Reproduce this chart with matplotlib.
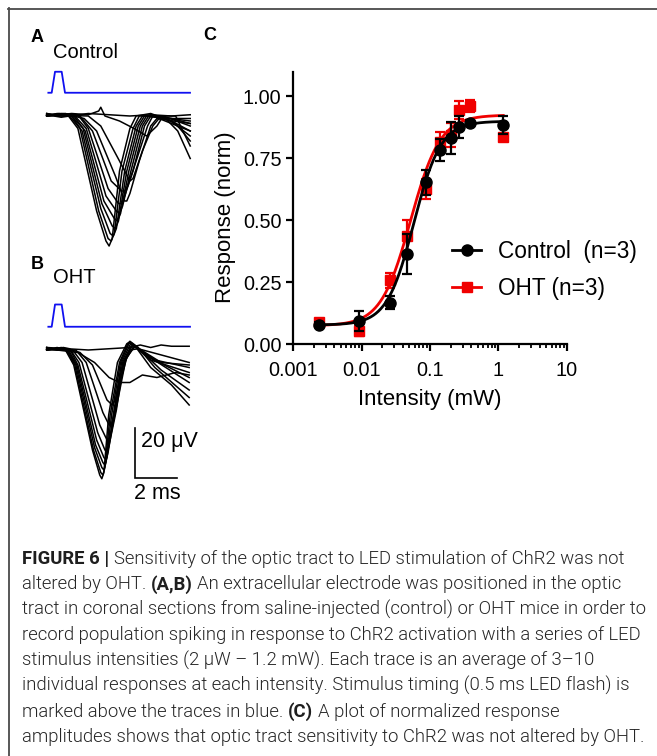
import numpy as np
import matplotlib
matplotlib.use("Agg")
import matplotlib.pyplot as plt
from matplotlib.lines import Line2D
from matplotlib import font_manager
from matplotlib.font_manager import FontProperties

W, H = 657, 756
plt.rcParams['font.family'] = ['Liberation Sans', 'DejaVu Sans']

# ---------------- data: panel C ----------------
intensity = [0.0024, 0.0093, 0.026, 0.046, 0.088, 0.142, 0.205, 0.27, 0.39, 1.18]
resp_control = [0.078, 0.093, 0.168, 0.365, 0.654, 0.783, 0.834, 0.876, 0.895, 0.885]
err_control = [0.01, 0.04, 0.025, 0.08, 0.05, 0.045, 0.065, 0.045, 0.01, 0.035]
resp_oht = [0.088, 0.052, 0.258, 0.435, 0.628, 0.818, 0.845, 0.945, 0.962, 0.835]
err_oht = [0.01, 0.02, 0.03, 0.065, 0.04, 0.04, 0.05, 0.035, 0.025, 0.01]
# fitted sigmoid parameters (bottom, top, EC50, hill)
fit_control = [0.078, 0.90, 0.058, 2.2]
fit_oht = [0.075, 0.925, 0.052, 2.0]
x_ticks = [0.001, 0.01, 0.1, 1, 10]
x_ticklabels = ["0.001", "0.01", "0.1", "1", "10"]
y_ticks = [0.0, 0.25, 0.5, 0.75, 1.0]
y_ticklabels = ["0.00", "0.25", "0.50", "0.75", "1.00"]
legend_labels = ["Control  (n=3)", "OHT (n=3)"]

# ---------------- data: panels A/B (ms, µV) ----------------
stim_t = [0.08, 0.24, 0.40, 0.72, 0.88, 6.89]
stim_level = [0, 0, 1, 1, 0, 0]
traces_A = [
    [(0, 0), (0.6, 1), (1.0, 0.5), (1.5, -5), (2.4, -38), (2.85, -50), (3.0, -52), (3.15, -49), (3.5, -22), (4.0, -5), (4.3, 0), (5.0, 1), (6.0, -2), (6.9, -6)],
    [(0, 0.5), (0.7, -0.5), (1.1, 0), (1.6, -5), (2.5, -38), (2.95, -49), (3.1, -50), (3.25, -47), (3.62, -22), (4.15, -5), (4.45, 0), (5.4, 0), (6.2, -3), (6.9, -10)],
    [(0, 0), (0.5, 1), (1.15, 0.5), (1.7, -6), (2.6, -37), (3.05, -47), (3.2, -48), (3.35, -45), (3.75, -22), (4.3, -4), (4.6, 0), (5.6, 0), (6.9, -4)],
    [(0, 1), (0.8, 0), (1.2, 0), (1.75, -5), (2.65, -35), (3.15, -44), (3.3, -45), (3.45, -42), (3.85, -22), (4.4, -4), (4.7, 0), (5.8, -1), (6.9, -8)],
    [(0, 0), (0.6, 0.5), (1.3, 0), (1.85, -6), (2.75, -34), (3.25, -41), (3.4, -42), (3.55, -39), (3.95, -22), (4.5, -4), (4.8, 0), (6.0, -1), (6.9, -3)],
    [(0, 0.5), (0.9, 1), (1.35, 0), (1.9, -5), (2.85, -32), (3.35, -38), (3.5, -39), (3.65, -36), (4.05, -22), (4.6, -4), (4.9, 0), (6.2, 0), (6.9, -12)],
    [(0, 0), (0.7, 1), (1.5, 0.5), (2.0, -5), (2.95, -29), (3.45, -35), (3.6, -35), (3.75, -32), (4.15, -22), (4.7, -4), (5.0, 0), (6.9, -2)],
    [(0, 1), (0.5, 0), (1.6, 0), (2.2, -6), (3.1, -26), (3.6, -30), (3.75, -30), (3.9, -28), (4.3, -18), (4.85, -4), (5.1, 0), (6.9, -6)],
    [(0, 0), (1.0, 0.5), (1.8, -1), (2.4, -6), (3.3, -24), (3.75, -34), (3.85, -34), (4.0, -31), (4.45, -18), (5.0, -4), (5.3, -1), (6.9, -3)],
    [(0, 0.5), (2.0, 0), (2.6, -4), (3.5, -18), (4.0, -26), (4.15, -25), (4.6, -14), (5.1, -4), (5.4, -1), (6.9, -1)],
    [(0, 0), (1.2, 1), (2.0, 0.5), (2.5, 2), (2.6, 3.5), (2.8, 0), (3.5, -2), (4.2, -5), (4.8, -8), (5.3, -4), (5.6, 0), (6.3, -6), (6.9, -17)],
    [(0, 0.5), (1, 0), (2, 1), (3, 0.5), (4, 0), (5, 0.5), (6, 0), (6.9, 0.5)],
]
traces_B = [
    [(0, 0), (0.5, 1), (0.9, 0), (1.3, -6), (2.2, -40), (2.55, -50), (2.65, -51.5), (2.75, -49), (2.98, -26), (3.4, -5), (3.85, 2.5), (3.95, 3), (4.3, 1), (5.0, -7), (6.0, -14), (6.85, -22)],
    [(0, 1), (0.6, 0), (0.95, 0), (1.35, -6), (2.25, -40), (2.6, -49), (2.7, -50), (2.8, -47), (3.05, -26), (3.5, -5), (3.9, 2.5), (4.0, 3.5), (4.4, 1), (5.2, -7), (6.85, -19)],
    [(0, 0), (0.7, 1), (1.0, 0), (1.4, -6), (2.3, -39), (2.65, -47), (2.75, -48), (2.85, -45), (3.12, -26), (3.55, -5), (3.95, 2.5), (4.05, 3), (4.5, 0), (5.5, -8), (6.85, -16)],
    [(0, 0.5), (0.5, 0), (1.05, 0), (1.45, -6), (2.35, -38), (2.7, -45), (2.8, -46), (2.9, -43), (3.2, -26), (3.6, -5), (4.0, 2), (4.1, 2.5), (4.6, -1), (6.85, -13)],
    [(0, 0), (0.8, 1), (1.1, 0.5), (1.5, -6), (2.4, -36), (2.75, -43), (2.85, -44), (2.95, -41), (3.27, -25), (3.65, -5), (4.05, 1.5), (4.15, 2), (4.7, -2), (6.85, -11)],
    [(0, 1), (0.6, 0), (1.15, 0), (1.55, -5), (2.45, -33), (2.8, -40), (2.9, -41), (3.0, -38), (3.35, -24), (3.7, -5), (4.1, 1.5), (4.2, 2), (5.0, -4), (6.85, -9)],
    [(0, 0), (0.9, 0.5), (1.25, 0), (1.7, -5), (2.55, -30), (2.9, -36), (3.0, -36), (3.1, -33), (3.42, -20), (3.8, -4), (4.15, 1), (4.25, 1.5), (5.2, -4), (6.85, -7)],
    [(0, 0.5), (0.7, 0), (1.4, 0), (1.9, -5), (2.7, -25), (3.0, -30), (3.1, -30), (3.2, -27), (3.5, -14), (3.85, -3), (4.2, 1), (4.35, 1), (5.5, -5), (6.85, -6)],
    [(0, 0), (1.0, 0.5), (1.6, -1), (2.2, -6), (2.9, -20), (3.15, -22), (3.3, -20), (3.6, -8), (4.0, 0), (4.4, 0.5), (6.85, -5)],
    [(0, 0.5), (1.5, -1), (2.3, -5), (3.0, -11), (3.5, -13), (4.0, -13), (4.6, -10), (5.3, -11), (6.2, -9), (6.85, -10)],
    [(0, 1), (1.0, 0.5), (2.0, 0), (3.0, 0.5), (4.0, 1), (4.5, 2), (5.0, 1), (5.5, 2), (6.0, 1.5), (6.85, 1.5)],
]
scalebar_ms = 2
scalebar_uv = 20

caption_lines = [
    [("FIGURE 6 |", True), ("Sensitivity of the optic tract to LED stimulation of ChR2 was not", False)],
    [("altered by OHT.", False), ("(A,B)", True), ("An extracellular electrode was positioned in the optic", False)],
    [("tract in coronal sections from saline-injected (control) or OHT mice in order to", False)],
    [("record population spiking in response to ChR2 activation with a series of LED", False)],
    [("stimulus intensities (2 \u03bcW \u2013 1.2 mW). Each trace is an average of 3\u201310", False)],
    [("individual responses at each intensity. Stimulus timing (0.5 ms LED flash) is", False)],
    [("marked above the traces in blue.", False), ("(C)", True), ("A plot of normalized response", False)],
    [("amplitudes shows that optic tract sensitivity to ChR2 was not altered by OHT.", False)],
]

# ---------------- helpers ----------------
def fx(x):
    return x / W

def fy(y):
    return 1 - y / H

fig = plt.figure(figsize=(W / 100, H / 100), dpi=100)

# outer frame lines (top & left)
fig.add_artist(Line2D([fx(8), fx(657)], [fy(8.5), fy(8.5)], color='#4a4a4a', lw=1.3, transform=fig.transFigure))
fig.add_artist(Line2D([fx(8.5), fx(8.5)], [fy(8), fy(756)], color='#4a4a4a', lw=1.3, transform=fig.transFigure))

# ---------------- panel C ----------------
axL, axR, axT, axB = 293.3, 566.7, 71.7, 344.3
ax = fig.add_axes([fx(axL), fy(axB), fx(axR) - fx(axL), fy(axT) - fy(axB)])
ax.set_xscale('log')
ax.set_xlim(0.001, 10)
ax.set_ylim(0, 1.1)

def sigmoid(x, p):
    b, t, ec, h = p
    return b + (t - b) / (1 + (ec / x) ** h)

xc = np.logspace(np.log10(intensity[0]), np.log10(intensity[-1]), 300)
red = '#f00000'
ax.plot(xc, sigmoid(xc, fit_oht), color=red, lw=2.0, zorder=2)
ax.errorbar(intensity, resp_oht, yerr=err_oht, fmt='none', ecolor=red, elinewidth=1.6,
            capsize=3.8, capthick=1.6, zorder=3)
ax.plot(intensity, resp_oht, 's', color=red, ms=7.5, zorder=4)
ax.plot(xc, sigmoid(xc, fit_control), color='black', lw=2.0, zorder=5)
ax.errorbar(intensity, resp_control, yerr=err_control, fmt='none', ecolor='black', elinewidth=1.6,
            capsize=3.8, capthick=1.6, zorder=6)
ax.plot(intensity, resp_control, 'o', color='black', ms=8, zorder=7)

for s in ['top', 'right']:
    ax.spines[s].set_visible(False)
for s in ['left', 'bottom']:
    ax.spines[s].set_linewidth(1.6)
ax.set_xticks(x_ticks)
ax.set_xticklabels(x_ticklabels)
ax.xaxis.set_minor_locator(matplotlib.ticker.LogLocator(base=10, subs=np.arange(2, 10)))
ax.xaxis.set_minor_formatter(matplotlib.ticker.NullFormatter())
ax.set_yticks(y_ticks)
ax.set_yticklabels(y_ticklabels)
ax.tick_params(axis='both', which='major', direction='out', length=5.2, width=1.6,
               labelsize=14.3, color='black')
ax.tick_params(axis='x', which='major', pad=7)
ax.tick_params(axis='y', which='major', pad=3.3)
ax.tick_params(axis='x', which='minor', direction='out', length=3, width=1.3)
ax.set_xlabel("Intensity (mW)", fontsize=16)
ax.set_ylabel("Response (norm)", fontsize=16)
ax.xaxis.set_label_coords(0.5, -(399.3 - axB) / (axB - axT), transform=ax.transAxes)
ax.xaxis.label.set_va('center')
ax.yaxis.set_label_coords(-(axL - 225) / (axR - axL), (axB - 217.5) / (axB - axT))
ax.yaxis.label.set_va('center')

handles = [Line2D([], [], color='black', marker='o', ms=8, lw=2.0),
           Line2D([], [], color=red, marker='s', ms=7.5, lw=2.0)]
ax.legend(handles, legend_labels, loc='upper left', bbox_to_anchor=(fx(452), fy(240)),
          bbox_transform=fig.transFigure, frameon=False, fontsize=16.3, handlelength=1.3,
          handletextpad=0.75, labelspacing=0.62, borderpad=0, borderaxespad=0)

# ---------------- panels A & B ----------------
PX_MS = 20.8
PX_UV = 2.5

def trace_axes(base_py, top_py, bottom_py, left_px=40, right_px=200, t0_px=46.7):
    a = fig.add_axes([fx(left_px), fy(bottom_py), fx(right_px) - fx(left_px), fy(top_py) - fy(bottom_py)])
    a.set_xlim((left_px - t0_px) / PX_MS, (right_px - t0_px) / PX_MS)
    a.set_ylim(-(bottom_py - base_py) / PX_UV, (base_py - top_py) / PX_UV)
    a.axis('off')
    return a

blue = '#1010f0'
axA = trace_axes(116, 60, 262)
for tr in traces_A:
    t, v = zip(*tr)
    axA.plot(t, v, color='black', lw=1.1, solid_joinstyle='round')
axA.plot(stim_t, [9.3 + 8.4 * s for s in stim_level], color=blue, lw=1.3)

axB2 = trace_axes(350, 294, 510)
for tr in traces_B:
    t, v = zip(*tr)
    axB2.plot(t, v, color='black', lw=1.1, solid_joinstyle='round')
axB2.plot(stim_t, [9.3 + 8.9 * s for s in stim_level], color=blue, lw=1.3)
# scale bar
sb_t0, sb_v0 = 4.245, -51.3
axB2.plot([sb_t0, sb_t0, sb_t0 + scalebar_ms], [sb_v0 + scalebar_uv, sb_v0, sb_v0],
          color='black', lw=1.2, clip_on=False, solid_joinstyle='miter')
axB2.text(sb_t0 + 0.3, sb_v0 + 14.9, "%d \u03bcV" % scalebar_uv, fontsize=15.5, va='center', ha='left')
axB2.text(sb_t0 + 1.05, -57.2, "%d ms" % scalebar_ms, fontsize=15.5, va='center', ha='center')

# panel letters and condition labels
fig.text(fx(31), fy(29), "A", fontsize=13, fontweight='bold', va='top', ha='left')
fig.text(fx(31), fy(256), "B", fontsize=13, fontweight='bold', va='top', ha='left')
fig.text(fx(203), fy(27), "C", fontsize=13, fontweight='bold', va='top', ha='left')
fig.text(fx(52.5), fy(52), "Control", fontsize=14.5, va='center', ha='left')
fig.text(fx(52.5), fy(278), "OHT", fontsize=14.5, va='center', ha='left')

# ---------------- caption ----------------
renderer = fig.canvas.get_renderer()
cap_color = '#262626'

def _w(f):
    w = f.weight
    if isinstance(w, str):
        return {'light': 300, 'extra light': 200, 'ultralight': 200, 'thin': 100}.get(w, 400)
    return w

light_font = None
bold_font = None
for fam in ['Roboto', 'Lato', 'Open Sans', 'Inter', 'Noto Sans']:
    lights = [f for f in font_manager.fontManager.ttflist
              if f.name == fam and _w(f) == 300 and f.style == 'normal']
    if lights:
        light_font = lights[0].fname
        bolds = [f for f in font_manager.fontManager.ttflist
                 if f.name == fam and _w(f) == 700 and f.style == 'normal']
        bold_font = bolds[0].fname if bolds else None
        break

def props(size, bold):
    if bold:
        if bold_font:
            return FontProperties(fname=bold_font, size=size)
        return FontProperties(family='Liberation Sans', weight='bold', size=size)
    if light_font:
        return FontProperties(fname=light_font, size=size)
    return FontProperties(family='Liberation Sans', size=size)

def width_px(s, size, bold):
    t = fig.text(0, 0, s, fontproperties=props(size, bold))
    w = t.get_window_extent(renderer).width
    t.remove()
    return w

base_size = 12.0
w_long = width_px(caption_lines[3][0][0], base_size, False)
cap_size = base_size * 618.0 / w_long
space_w = width_px("a a", cap_size, False) - width_px("aa", cap_size, False)

x_left = 22
base0 = 564
spacing = (742 - 564) / 7
for i, line in enumerate(caption_lines):
    x = x_left
    yb = base0 + i * spacing
    for j, (seg, bold) in enumerate(line):
        t = fig.text(fx(x), fy(yb), seg, fontproperties=props(cap_size, bold),
                     color='#1e1e1e' if bold else cap_color, va='baseline', ha='left')
        x += t.get_window_extent(renderer).width + space_w

fig.savefig("out.png", dpi=100)
